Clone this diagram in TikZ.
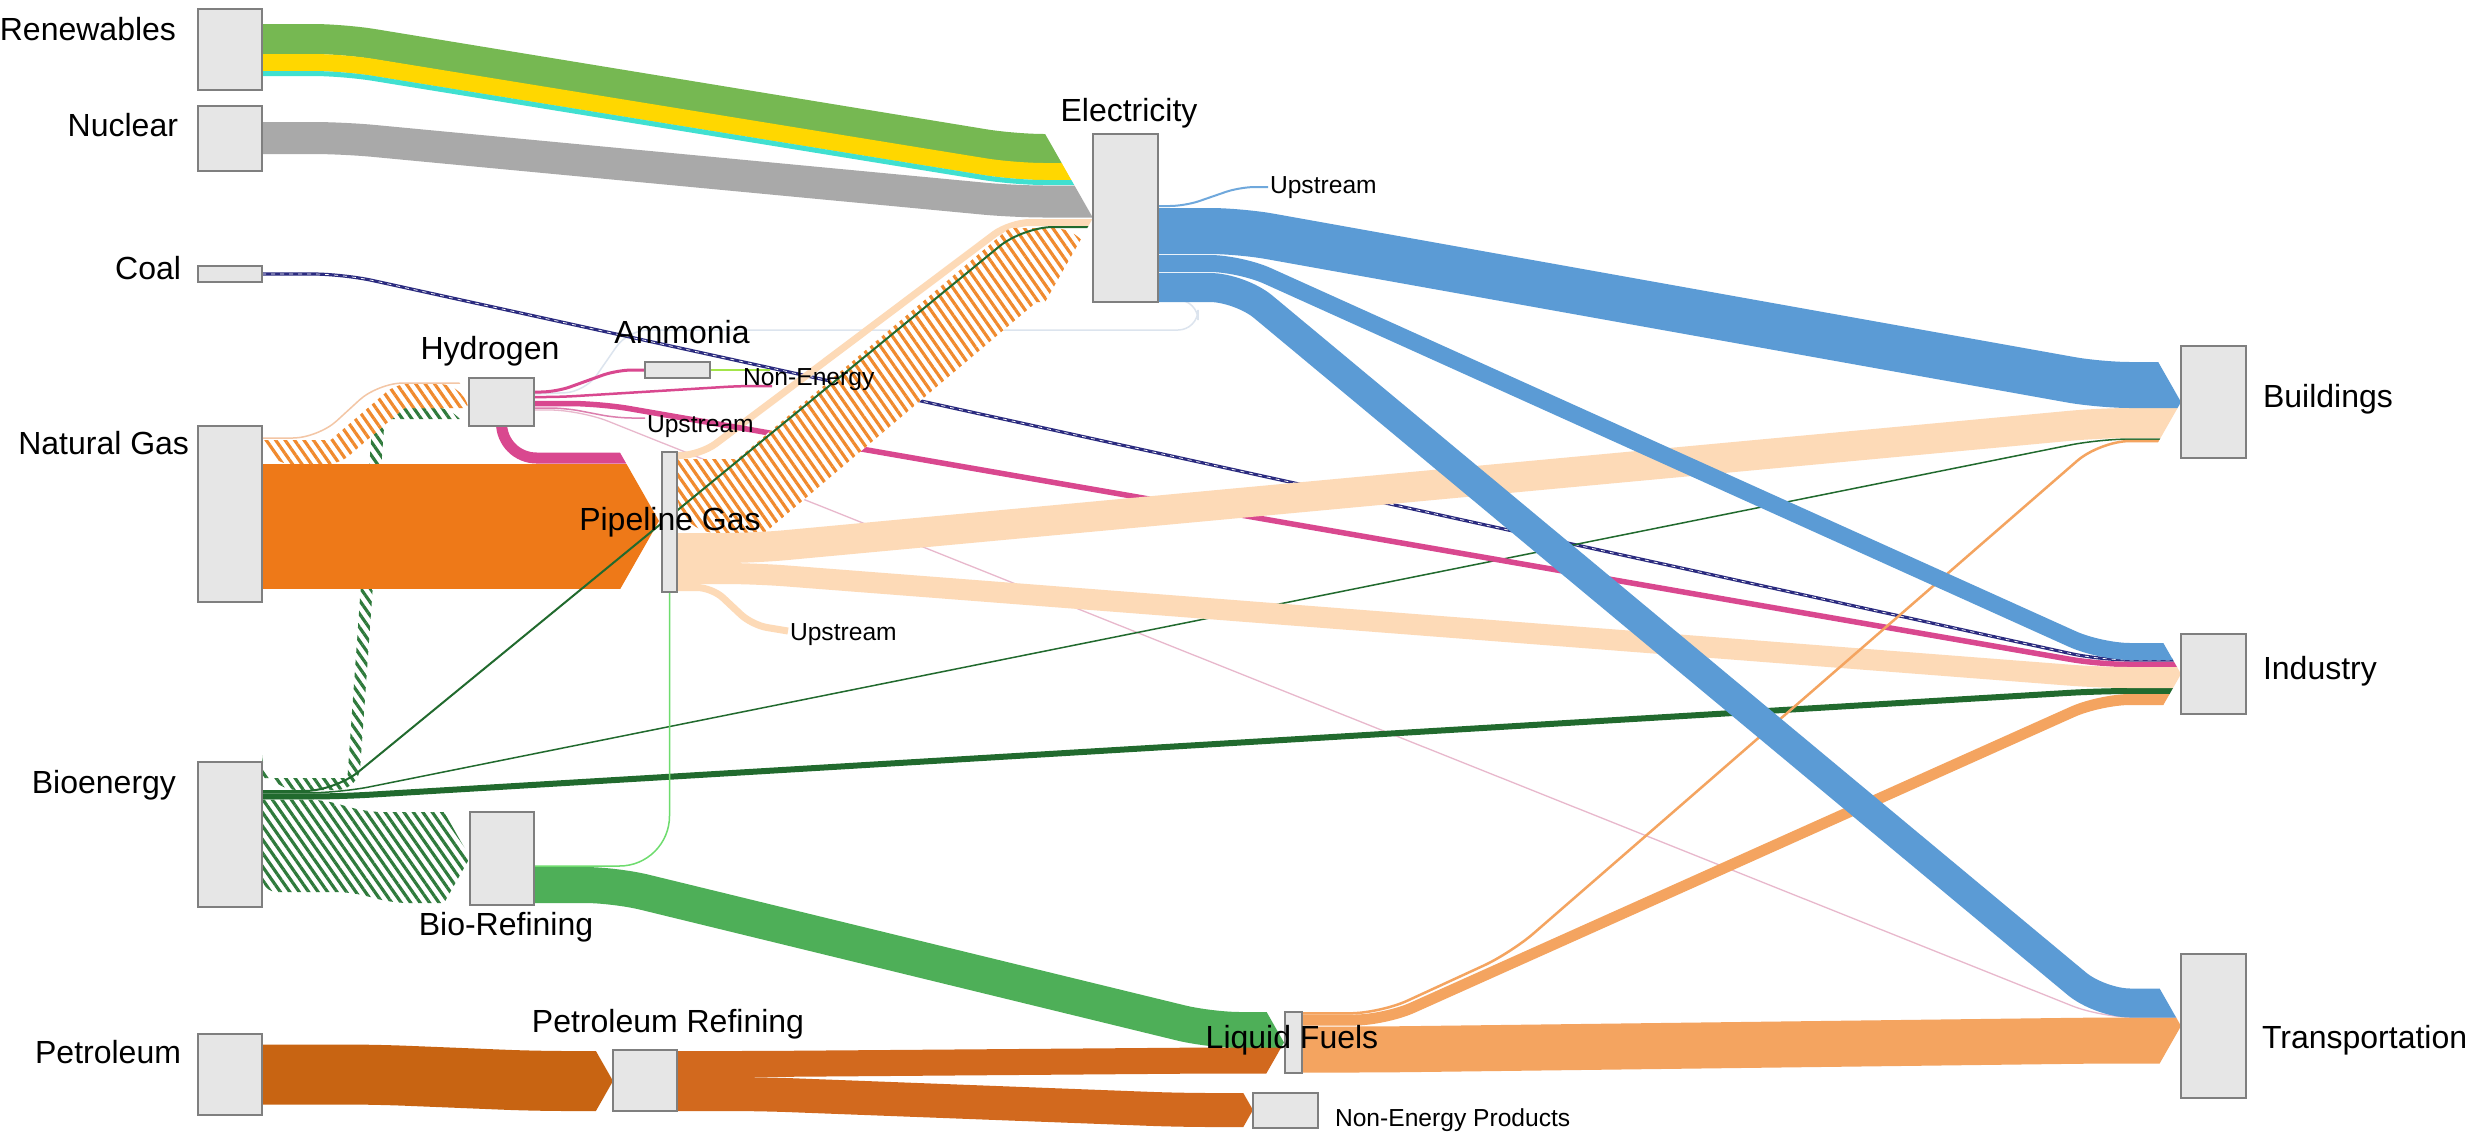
\documentclass[tikz,border=0pt]{standalone}
\usepackage{fontspec}
\setmainfont{Liberation Sans}
\usetikzlibrary{patterns.meta}
\pgfdeclarelayer{bg}
\pgfsetlayers{bg,main}
\definecolor{boxfill}{HTML}{E6E6E6}
\definecolor{boxedge}{HTML}{7F7F7F}
\definecolor{cren}{HTML}{76B852}
\definecolor{cyel}{HTML}{FFD700}
\definecolor{cturq}{HTML}{40E0D0}
\definecolor{cnuc}{HTML}{A9A9A9}
\definecolor{cnavy}{HTML}{2B2B7F}
\definecolor{cng}{HTML}{EE7918}
\definecolor{cpeach}{HTML}{FDDAB7}
\definecolor{cpink}{HTML}{D9488F}
\definecolor{cpinkl}{HTML}{DC7FAE}
\definecolor{clpink}{HTML}{E8B8CC}
\definecolor{clime}{HTML}{A3E54A}
\definecolor{cdkg}{HTML}{216A2E}
\definecolor{chg}{HTML}{2F7A3C}
\definecolor{cbio}{HTML}{4EAF58}
\definecolor{clg}{HTML}{6EDC6E}
\definecolor{cblue}{HTML}{5B9BD5}
\definecolor{clblue}{HTML}{6FA8DC}
\definecolor{cpet}{HTML}{C86412}
\definecolor{cpr}{HTML}{D2691E}
\definecolor{clf}{HTML}{F4A460}
\definecolor{cho}{HTML}{F08A2E}
\definecolor{cfaint}{HTML}{DCE4EE}
\definecolor{cthinpeach}{HTML}{F3C6A5}
% chevron-shaped clip in front of a target: tip x, middle y, half height
\newcommand{\chevclip}[3]{\clip (-5000,-5000) -- (#1-0.57*#3,-5000) -- (#1-0.57*#3,#2-#3) -- (#1,#2) -- (#1-0.57*#3,#2+#3) -- (#1-0.57*#3,5000) -- (-5000,5000) -- cycle;}
\begin{document}
\begin{tikzpicture}[x=0.01cm, y=-0.01cm,
  box/.style={draw=boxedge, fill=boxfill, line width=0.025cm, inner sep=0pt, outer sep=0pt, rectangle},
  big/.style={font=\fontsize{9.1}{11}\selectfont, inner sep=0pt, outer sep=0pt},
  small/.style={font=\fontsize{7}{8.4}\selectfont, inner sep=0pt, outer sep=0pt},
  flow/.style 2 args={draw=#1, line width=#2*0.01cm, rounded corners=0.3cm},
  hatchO/.style={preaction={fill=white}, pattern={Lines[angle=-55,distance=2.2pt,line width=0.9pt]}, pattern color=cho},
  hatchG/.style={preaction={fill=white}, pattern={Lines[angle=-55,distance=2.2pt,line width=0.9pt]}, pattern color=chg}
]
\useasboundingbox (0,0) rectangle (2484,1139);

% ---------- nodes ----------
\node[box, minimum width=0.64cm, minimum height=0.81cm] (ren) at (230,49.5) {};
\node[box, minimum width=0.64cm, minimum height=0.65cm] (nuc) at (230,138.5) {};
\node[box, minimum width=0.64cm, minimum height=0.16cm] (coal) at (230,274) {};
\node[box, minimum width=0.64cm, minimum height=1.76cm] (ng) at (230,514) {};
\node[box, minimum width=0.64cm, minimum height=1.45cm] (bio) at (230,834.5) {};
\node[box, minimum width=0.64cm, minimum height=0.81cm] (pet) at (230,1074.5) {};
\node[box, minimum width=0.65cm, minimum height=0.48cm] (h2) at (501.5,402) {};
\node[box, minimum width=0.65cm, minimum height=0.16cm] (amm) at (677.5,370) {};
\node[box, minimum width=0.15cm, minimum height=1.40cm] (pg) at (669.5,522) {};
\node[box, minimum width=0.64cm, minimum height=0.93cm] (bior) at (502,858.5) {};
\node[box, minimum width=0.64cm, minimum height=0.61cm] (petr) at (645,1080.5) {};
\node[box, minimum width=0.65cm, minimum height=1.68cm] (elec) at (1125.5,218) {};
\node[box, minimum width=0.17cm, minimum height=0.61cm] (lf) at (1293.5,1042.5) {};
\node[box, minimum width=0.65cm, minimum height=0.35cm] (nep) at (1285.5,1110.5) {};
\node[box, minimum width=0.65cm, minimum height=1.12cm] (bld) at (2213.5,402) {};
\node[box, minimum width=0.65cm, minimum height=0.80cm] (ind) at (2213.5,674) {};
\node[box, minimum width=0.65cm, minimum height=1.44cm] (trn) at (2213.5,1026) {};

% ---------- labels ----------
\node[big, anchor=base east] (tren) at (176,40) {Renewables};
\node[big, anchor=base east] (tnuc) at (178,136) {Nuclear};
\node[big, anchor=base east] (tcoal) at (181,279) {Coal};
\node[big, anchor=base east] (tng) at (189,454) {Natural Gas};
\node[big, anchor=base east] (tbio) at (176,793) {Bioenergy};
\node[big, anchor=base east] (tpet) at (181,1063) {Petroleum};
\node[big, anchor=base] (th2) at (490,359) {Hydrogen};
\node[big, anchor=base] (tamm) at (682,343) {Ammonia};
\node[big, anchor=base] (tpg) at (670,530) {Pipeline Gas};
\node[big, anchor=base] (tbior) at (506,935) {Bio-Refining};
\node[big, anchor=base] (tpetr) at (668,1032) {Petroleum Refining};
\node[big, anchor=base] (telec) at (1129,121) {Electricity};
\node[big, anchor=base] (tlf) at (1292,1048) {Liquid Fuels};
\node[small, anchor=base west] (tnep) at (1335,1126) {Non-Energy Products};
\node[big, anchor=base west] (tbld) at (2263,407) {Buildings};
\node[big, anchor=base west] (tind) at (2263,679) {Industry};
\node[big, anchor=base west] (ttrn) at (2262,1048) {Transportation};
\node[small, anchor=base west] (lupE) at (1270,193) {Upstream};
\node[small, anchor=base west] (lne) at (743,385) {Non-Energy};
\node[small, anchor=base west] (lupH) at (647,432) {Upstream};
\node[small, anchor=base west] (lupP) at (790,640) {Upstream};

\coordinate (pNE) at (772,386);
\coordinate (pUH) at (645,418);
\coordinate (pLime) at (770,370);
\coordinate (pUE) at (1268,187);
\coordinate (pUP) at (788,631);

% ---------- flows ----------
\begin{pgfonlayer}{bg}
\fill[white] (0,0) rectangle (2484,1139);
\begin{scope}\chevclip{1093}{218}{90}
\draw[flow={cren}{30}] (ren.east |- 0,39) -- (343,39) -- (1014,149) -- (elec.west |- 0,149);
\draw[flow={cyel}{17}] (ren.east |- 0,62.5) -- (343,62.5) -- (1014,171.5) -- (elec.west |- 0,171.5);
\draw[flow={cturq}{5}] (ren.east |- 0,73.5) -- (343,73.5) -- (1014,182.5) -- (elec.west |- 0,182.5);
\draw[flow={cnuc}{32}] (nuc.east |- 0,138) -- (343,138) -- (1014,201.5) -- (elec.west |- 0,201.5);
\end{scope}

% electricity -> hydrogen faint loop
\draw[cfaint, line width=0.015cm, rounded corners=0.2cm] (elec.east |- 0,300) -- (1198,300) -- (1198,330) -- (628,330) -- (585,392) -- (h2.east |- 0,394);

% coal -> industry
\begin{scope}\chevclip{2181}{674}{35}
\draw[flow={cnavy}{3.2}] (coal.east |- 0,274) -- (343,274) -- (2100,660) -- (ind.west |- 0,660);
\draw[white, line width=0.007cm, dash pattern=on 0.04cm off 0.05cm, rounded corners=0.3cm] (coal.east |- 0,274) -- (343,274) -- (2100,660) -- (ind.west |- 0,660);
\end{scope}

% into hydrogen
\begin{scope}\chevclip{470}{401}{25}
\path[hatchG] (bio.east |- 0,778) -- (347.4,778) [rounded corners=0.22cm] -- (373.4,407) [rounded corners=0.36cm] -- (h2.west |- 0,407) [sharp corners] -- (h2.west |- 0,419) -- (384.6,419) [rounded corners=0.22cm] -- (358.6,790) [rounded corners=0.36cm] -- (bio.east |- 0,790) [sharp corners] -- cycle;
\draw[cthinpeach, line width=0.015cm, rounded corners=0.25cm] (ng.east |- 0,438) -- (318,438) -- (378,383) -- (h2.west |- 0,383);
\path[hatchO] (ng.east |- 0,440) -- (330.6,440) [rounded corners=0.12cm] -- (395.6,384) [rounded corners=0.3cm] -- (h2.west |- 0,384) [sharp corners] -- (h2.west |- 0,408) -- (404.4,408) [rounded corners=0.12cm] -- (339.4,464) [rounded corners=0.3cm] -- (ng.east |- 0,464) [sharp corners] -- cycle;
\end{scope}

% into pipeline gas
\begin{scope}\chevclip{659}{521}{75}
\draw[flow={cng}{125}] (ng.east |- 0,526.5) -- (pg.west |- 0,526.5);
\draw[flow={cpink}{11}, rounded corners=0.35cm] (h2.center) -- (h2.center |- 0,458) -- (pg.west |- 0,458);
\end{scope}

% hydrogen small outflows
\draw[flow={cpink}{3}, rounded corners=0.15cm] (h2.east |- 0,392) -- (556,392) -- (617,370) -- (amm.west |- 0,370);
\draw[flow={cpink}{2.5}, rounded corners=0.15cm] (h2.east |- 0,397) -- (560,397) -- (740,386) -- (pNE);
\draw[flow={cpinkl}{1.5}, rounded corners=0.15cm] (h2.east |- 0,408) -- (565,408) -- (617,418) -- (pUH);
\begin{scope}\chevclip{2181}{1026}{45}
\draw[flow={clpink}{1.3}] (h2.east |- 0,410) -- (580,410) -- (2100,1017) -- (trn.west |- 0,1017);
\end{scope}

% bioenergy thin outflows
\begin{scope}\chevclip{2181}{402}{45}
\draw[flow={cdkg}{1.5}] (bio.east |- 0,792.8) -- (340,792.8) -- (2100,439) -- (bld.west |- 0,439);
\end{scope}
\begin{scope}\chevclip{2181}{674}{35}
\draw[flow={cdkg}{6}] (bio.east |- 0,796.5) -- (340,796.5) -- (2100,691) -- (ind.west |- 0,691);
\end{scope}

% pipeline gas -> electricity (peach)
\begin{scope}\chevclip{1093}{218}{90}
\draw[flow={cpeach}{7}, rounded corners=0.2cm] (pg.east |- 0,455.5) -- (700,455.5) -- (1010,222.5) -- (elec.west |- 0,222.5);
\end{scope}

% hydrogen -> industry
\begin{scope}\chevclip{2181}{674}{35}
\draw[flow={cpink}{5.5}] (h2.east |- 0,403.5) -- (600,403.5) -- (2100,664.5) -- (ind.west |- 0,664.5);
\end{scope}

% pipeline gas -> electricity hatched, bioenergy -> electricity
\begin{scope}\chevclip{1093}{218}{90}
\path[hatchO] (pg.east |- 0,459) -- (737.4,459) [rounded corners=0.03cm] -- (1009.4,228) [rounded corners=0.4cm] -- (elec.west |- 0,228) [sharp corners] -- (elec.west |- 0,302) -- (1036.6,302) [rounded corners=0.03cm] -- (764.6,533) [rounded corners=0.4cm] -- (pg.east |- 0,533) [sharp corners] -- cycle;
\draw[flow={cdkg}{2}] (bio.east |- 0,791) -- (335,791) -- (1023,227) -- (elec.west |- 0,227);
\end{scope}

% pipeline gas -> buildings / industry / upstream
\begin{scope}\chevclip{2181}{402}{45}
\draw[flow={cpeach}{30}] (pg.east |- 0,548) -- (755,548) -- (2100,423) -- (bld.west |- 0,423);
\end{scope}
\begin{scope}\chevclip{2181}{674}{35}
\draw[flow={cpeach}{21}] (pg.east |- 0,573.5) -- (755,573.5) -- (2100,677.5) -- (ind.west |- 0,677.5);
\end{scope}
\draw[flow={cpeach}{7}, rounded corners=0.15cm] (pg.east |- 0,587.5) -- (712,587.5) -- (752,625) -- (pUP);

% bioenergy -> bio-refining
\begin{scope}\chevclip{470}{857.5}{50}
\path[hatchG, rounded corners=0.15cm] (bio.east |- 0,799.5) -- (322,799.5) -- (367,812) -- (bior.west |- 0,812) [sharp corners] -- (bior.west |- 0,903) [rounded corners=0.15cm] -- (393,903) -- (351,892) -- (bio.east |- 0,892) [sharp corners] -- cycle;
\end{scope}

% bio-refining outflows
\draw[clg, line width=0.015cm, rounded corners=0.5cm] (bior.east |- 0,866) -- (pg.south |- 0,866) -- (pg.south);
\begin{scope}\chevclip{1284}{1042.5}{35}
\draw[flow={cbio}{36}] (bior.east |- 0,885) -- (615,885) -- (1210,1030) -- (lf.west |- 0,1030);
\end{scope}

% petroleum chain
\begin{scope}\chevclip{613}{1081}{35}
\draw[flow={cpet}{60}] (pet.east |- 0,1074.5) -- (375,1074.5) -- (536,1081) -- (petr.west |- 0,1081);
\end{scope}
\begin{scope}\chevclip{1284}{1042.5}{35}
\draw[flow={cpr}{26}] (petr.east |- 0,1064) -- (760,1064) -- (1210,1060.5) -- (lf.west |- 0,1060.5);
\end{scope}
\begin{scope}\chevclip{1253}{1110}{20}
\draw[flow={cpr}{34}] (petr.east |- 0,1094) -- (760,1094) -- (1180,1110) -- (nep.west |- 0,1110);
\end{scope}

% liquid fuels outflows
\begin{scope}\chevclip{2181}{1026}{45}
\draw[flow={clf}{46}] (lf.east |- 0,1049.5) -- (1380,1049.5) -- (2100,1040.5) -- (trn.west |- 0,1040.5);
\end{scope}
\begin{scope}\chevclip{2181}{674}{35}
\draw[flow={clf}{11}] (lf.east |- 0,1020) -- (1385,1020) -- (2100,699.5) -- (ind.west |- 0,699.5);
\end{scope}
\begin{scope}\chevclip{2181}{402}{45}
\draw[flow={clf}{2.5}] (lf.east |- 0,1013.3) -- (1380,1013.3) -- (1511,953) -- (2100,441) -- (bld.west |- 0,441);
\end{scope}

% ammonia -> non-energy, electricity -> upstream
\draw[flow={clime}{2.5}] (amm.east |- 0,370) -- (pLime);
\draw[flow={clblue}{2}, rounded corners=0.15cm] (elec.east |- 0,206) -- (1185,206) -- (1240,187) -- (pUE);

% electricity outflows
\begin{scope}\chevclip{2181}{402}{45}
\draw[flow={cblue}{46}] (elec.east |- 0,231) -- (1240,231) -- (2100,385) -- (bld.west |- 0,385);
\end{scope}
\begin{scope}\chevclip{2181}{674}{35}
\draw[flow={cblue}{17}] (elec.east |- 0,263.5) -- (1240,263.5) -- (2100,651.5) -- (ind.west |- 0,651.5);
\end{scope}
\begin{scope}\chevclip{2181}{1026}{45}
\draw[flow={cblue}{29}] (elec.east |- 0,287.5) -- (1240,287.5) -- (2100,1003) -- (trn.west |- 0,1003);
\end{scope}
\end{pgfonlayer}
\end{tikzpicture}
\end{document}
